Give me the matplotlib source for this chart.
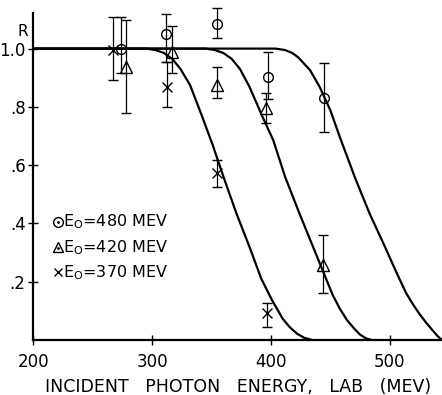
import matplotlib.pyplot as plt

# curvas teóricas
e370 = [200, 295, 303, 310, 317, 324, 332, 341, 351, 361, 371, 382, 392, 401, 410, 416, 422, 428, 435]
r370 = [1.0, 1.0, 0.995, 0.985, 0.965, 0.93, 0.875, 0.78, 0.67, 0.55, 0.435, 0.32, 0.21, 0.137, 0.073, 0.044, 0.022, 0.008, 0.0]

e420 = [200, 345, 353, 360, 367, 374, 382, 393, 402, 412, 424, 436, 444, 452, 458, 464, 470, 475, 480, 485]
r420 = [1.0, 1.0, 0.995, 0.985, 0.965, 0.93, 0.869, 0.766, 0.686, 0.56, 0.435, 0.315, 0.235, 0.155, 0.108, 0.069, 0.04, 0.019, 0.006, 0.0]

e480 = [200, 404, 412, 418, 423, 433, 441, 450, 458, 471, 483, 496, 506, 514, 520, 525, 531, 536, 540, 544]
r480 = [1.0, 1.0, 0.995, 0.985, 0.97, 0.926, 0.869, 0.789, 0.697, 0.555, 0.435, 0.32, 0.229, 0.16, 0.12, 0.09, 0.058, 0.034, 0.015, 0.0]

# pontos experimentais
E_c = [274, 312, 355, 398, 445]
R_c = [1.0, 1.05, 1.084, 0.902, 0.83]
lo_c = [0.916, 0.954, 1.036, 0.827, 0.714]
hi_c = [1.108, 1.118, 1.139, 0.988, 0.95]

E_t = [278, 317, 355, 396, 444]
R_t = [0.937, 0.988, 0.875, 0.796, 0.257]
lo_t = [0.779, 0.916, 0.83, 0.744, 0.161]
hi_t = [1.098, 1.077, 0.937, 0.847, 0.36]

E_x = [267, 313, 355, 397]
R_x = [0.995, 0.868, 0.573, 0.093]
lo_x = [0.892, 0.80, 0.525, 0.045]
hi_x = [1.108, 0.954, 0.617, 0.127]

legend_labels = ['E$_\\mathregular{O}$=480 MEV', 'E$_\\mathregular{O}$=420 MEV', 'E$_\\mathregular{O}$=370 MEV']

fig = plt.figure(figsize=(4.42, 3.95), dpi=100)
ax = fig.add_axes([0.075, 0.139, 0.925, 0.828])

for e, r in [(e370, r370), (e420, r420), (e480, r480)]:
    ax.plot(e, r, color='black', lw=1.6, solid_joinstyle='round', solid_capstyle='round')

def barras(E, R, lo, hi, marker, ms):
    err = [[R[i] - lo[i] for i in range(len(R))], [hi[i] - R[i] for i in range(len(R))]]
    ax.errorbar(E, R, yerr=err, fmt=marker, ms=ms, mfc='none', mec='black', mew=1.0,
                ecolor='black', elinewidth=0.9, capsize=3.5, capthick=0.9, clip_on=False)

barras(E_c, R_c, lo_c, hi_c, 'o', 7)
barras(E_t, R_t, lo_t, hi_t, '^', 8)
barras(E_x, R_x, lo_x, hi_x, 'x', 7)

# legenda desenhada à mão
ax.plot([221], [0.405], 'o', ms=7, mfc='none', mec='black', mew=1.0)
ax.plot([221], [0.405], '.', ms=2, color='black')
ax.plot([221], [0.32], '^', ms=7, mfc='none', mec='black', mew=1.0)
ax.plot([221], [0.315], '.', ms=2, color='black')
ax.plot([221], [0.232], 'x', ms=6, color='black', mew=1.0)
for y, lab in zip([0.405, 0.318, 0.23], legend_labels):
    ax.text(225, y, lab, fontsize=11.5, va='center', ha='left')

ax.text(191, 1.06, 'R', fontsize=11, ha='center', va='center', clip_on=False)

ax.set_xlim(200, 544)
ax.set_ylim(0, 1.122)
ax.set_xticks([200, 300, 400, 500])
ax.set_yticks([0.2, 0.4, 0.6, 0.8, 1.0])
ax.set_yticklabels(['.2', '.4', '.6', '.8', '1.0'])
ax.tick_params(direction='inout', length=7, width=1.0, labelsize=12, pad=2)
ax.tick_params(axis='x', pad=6)
for s in ['top', 'right']:
    ax.spines[s].set_visible(False)
for s in ['left', 'bottom']:
    ax.spines[s].set_linewidth(1.6)
ax.set_xlabel('INCIDENT   PHOTON   ENERGY,   LAB   (MEV)', fontsize=12.5, labelpad=5)

plt.savefig('out.png', dpi=100)
plt.close()
